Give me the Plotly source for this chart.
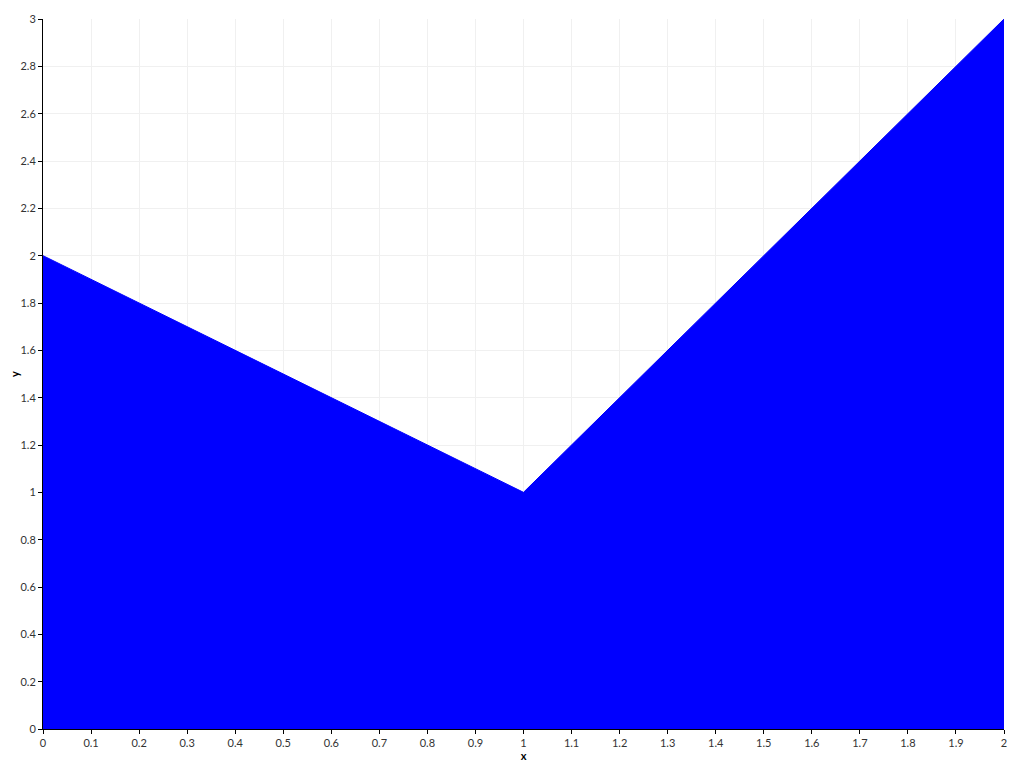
import plotly.graph_objects as go

x_vals = [0, 1, 2]
y_vals = [2, 1, 3]

fig = go.Figure()
fig.add_trace(go.Scatter(
    x=x_vals, y=y_vals, mode="lines", fill="tozeroy",
    fillcolor="#0000ff", line=dict(color="#0000ff", width=1),
    showlegend=False, hoverinfo="skip",
))

font_fam = "Lato, DejaVu Sans, sans-serif"
axis_common = dict(
    showline=True, linecolor="#000", linewidth=1,
    ticks="outside", ticklen=4, tickcolor="#000", tickwidth=1,
    showgrid=True, gridcolor="#f0f0f0", gridwidth=1,
    zeroline=False, mirror=False, automargin=False,
    tickfont=dict(family=font_fam, size=11, color="#333"),
)

fig.update_layout(
    width=1024, height=768,
    margin=dict(l=35, r=28, t=11, b=47),
    paper_bgcolor="white", plot_bgcolor="white",
    xaxis=dict(range=[0, 2], dtick=0.1, tick0=0,
               title=dict(text="<b>x</b>", font=dict(family=font_fam, size=11, color="#000"), standoff=4),
               **axis_common),
    yaxis=dict(range=[0, 3], dtick=0.2, tick0=0,
               title=dict(text="<b>y</b>", font=dict(family=font_fam, size=11, color="#000"), standoff=4),
               **axis_common),
)

fig.write_html("out.html")
